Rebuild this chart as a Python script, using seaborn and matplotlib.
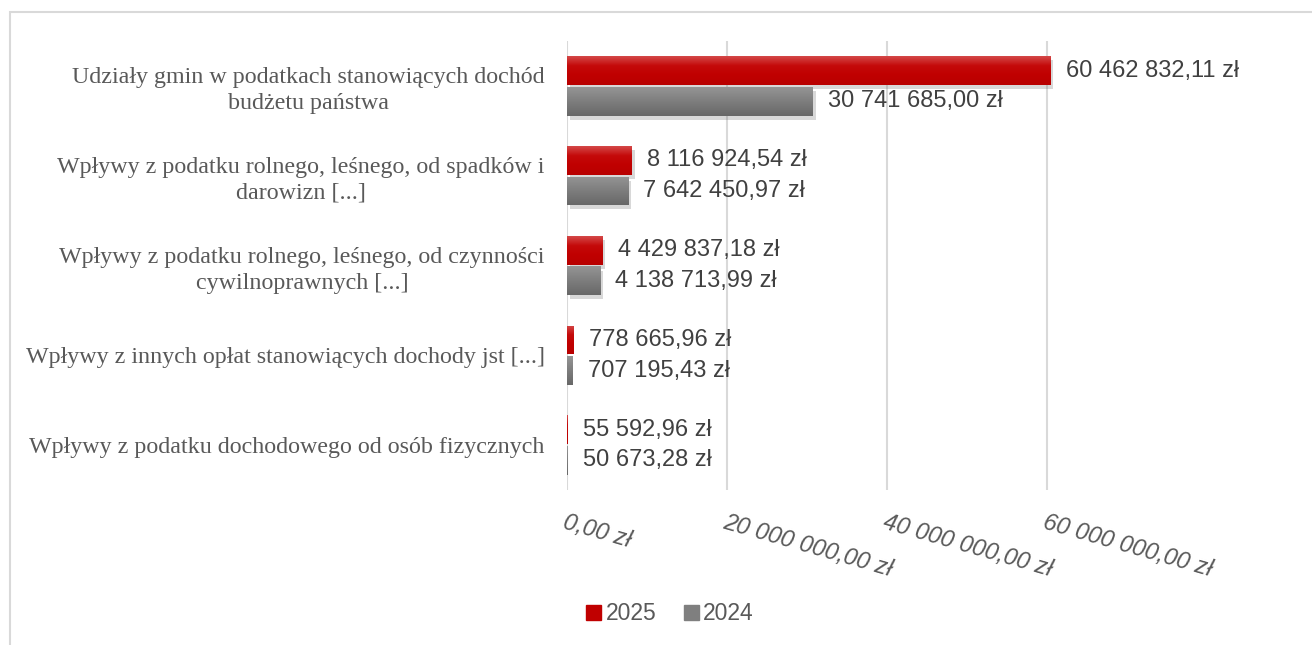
import matplotlib
matplotlib.use("Agg")
import matplotlib.pyplot as plt
import matplotlib.patheffects as pe
from matplotlib.patches import Rectangle
from matplotlib.colors import to_rgb
import numpy as np
import pandas as pd
import seaborn as sns

sns.set_theme(style="white")
plt.rcParams["font.family"] = ["Liberation Sans", "DejaVu Sans"]

CATEGORIES = [
    "Udziały gmin w podatkach stanowiących dochód\nbudżetu państwa",
    "Wpływy z podatku rolnego, leśnego, od spadków i\ndarowizn [...]",
    "Wpływy z podatku rolnego, leśnego, od czynności\ncywilnoprawnych [...]",
    "Wpływy z innych opłat stanowiących dochody jst [...]",
    "Wpływy z podatku dochodowego od osób fizycznych",
]
YEARS = ["2025", "2024"]
VALUES_2025 = [60462832.11, 8116924.54, 4429837.18, 778665.96, 55592.96]
VALUES_2024 = [30741685.00, 7642450.97, 4138713.99, 707195.43, 50673.28]
X_TICKS = [0, 20_000_000, 40_000_000, 60_000_000]

COLORS = {"2025": "#c00000", "2024": "#7f7f7f"}
GRAD = {
    "2025": ["#d44848", "#c40a0a", "#c00000", "#b80000"],
    "2024": ["#959595", "#858585", "#767676", "#686868"],
}


def pl_money(v):
    s = f"{v:,.2f}"
    s = s.replace(",", " ").replace(".", ",")
    return s + " zł"


df = pd.DataFrame({
    "category": CATEGORIES * 2,
    "year": ["2025"] * len(CATEGORIES) + ["2024"] * len(CATEGORIES),
    "value": VALUES_2025 + VALUES_2024,
})

fig = plt.figure(figsize=(13.12, 6.45), dpi=100)
ax = fig.add_axes([567 / 1312, 1 - 490 / 645, (1127 - 567) / 1312, (490 - 41) / 645])

sns.barplot(data=df, y="category", x="value", hue="year", hue_order=YEARS,
            orient="h", palette=COLORS, width=0.68, gap=0.06, ax=ax,
            legend=False, zorder=3)

ax.set_xlim(0, 70_000_000)
ax.set_ylim(len(CATEGORIES) - 0.5, -0.5)

# gradient fill + soft shadow on each bar
for container, year in zip(ax.containers, YEARS):
    stops = np.array([to_rgb(c) for c in GRAD[year]])
    t = np.linspace(0, 1, 64)
    grad = np.stack([np.interp(t, np.linspace(0, 1, len(stops)), stops[:, k]) for k in range(3)], axis=-1)
    grad = grad[:, None, :]
    for bar in container:
        x0, y0 = bar.get_x(), bar.get_y()
        w, h = bar.get_width(), bar.get_height()
        if w > 1_000_000:
            bar.set_path_effects([pe.SimplePatchShadow(offset=(2, -3), alpha=0.25, shadow_rgbFace="#666666"),
                                  pe.Normal()])
        bar.set_linewidth(0)
        im = ax.imshow(grad, extent=(x0, x0 + w, y0 + h, y0), origin="upper",
                       aspect="auto", zorder=3.5, interpolation="bilinear")
        im.set_clip_path(bar)
    labels = [pl_money(b.get_width()) for b in container]
    ax.bar_label(container, labels=labels, padding=11, fontsize=17, color="#404040")

ax.set_xlim(0, 70_000_000)
ax.set_ylim(len(CATEGORIES) - 0.5, -0.5)

ax.set_xticks(X_TICKS)
ax.set_xticklabels([pl_money(v) for v in X_TICKS], rotation=-16, ha="left", va="top",
                   rotation_mode="anchor", fontsize=17, color="#595959", style="italic")
ax.tick_params(axis="x", length=0, pad=15)
ax.tick_params(axis="y", length=0, pad=16)
for lbl in ax.get_yticklabels():
    lbl.set_family(["Liberation Serif", "DejaVu Serif"])
    lbl.set_fontsize(17.3)
    lbl.set_color("#595959")
    lbl.set_multialignment("center")
    lbl.set_linespacing(1.3)

ax.grid(axis="x", color="#d9d9d9", linewidth=1.5, zorder=0)
ax.set_axisbelow(True)
for s in ax.spines.values():
    s.set_visible(False)
ax.set_xlabel("")
ax.set_ylabel("")

handles = [Rectangle((0, 0), 1, 1, color=COLORS[y]) for y in YEARS]
fig.legend(handles, YEARS, loc="center", bbox_to_anchor=(670 / 1312, 1 - 614 / 645),
           ncol=2, frameon=False, fontsize=16.5, labelcolor="#595959",
           handlelength=0.65, handleheight=0.65, handletextpad=0.2, columnspacing=1.2)

# outer chart border (only top and left visible in the crop)
fig.patches.append(Rectangle((10 / 1312, -0.1), 1.2, 1 - 12 / 645 + 0.1,
                             transform=fig.transFigure, fill=False,
                             edgecolor="#d9d9d9", linewidth=1.5))

fig.savefig("out.png", dpi=100)
